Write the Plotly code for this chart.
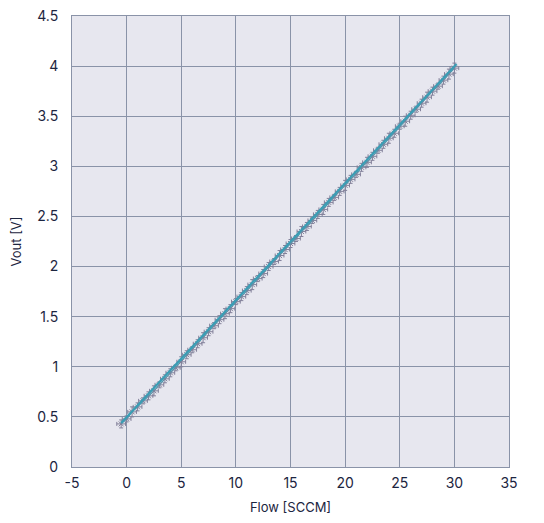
"""Vout vs flow calibration plot"""
import plotly.graph_objects as go

# measured points
flow = [
    -0.5, 0, 0.5, 1, 1.5, 2, 2.5, 3, 3.5, 4, 4.5, 5, 5.5, 6, 6.5, 7, 7.5, 8,
    8.5, 9, 9.5, 10, 10.5, 11, 11.5, 12, 12.5, 13, 13.5, 14, 14.5, 15, 15.5,
    16, 16.5, 17, 17.5, 18, 18.5, 19, 19.5, 20, 20.5, 21, 21.5, 22, 22.5, 23,
    23.5, 24, 24.5, 25, 25.5, 26, 26.5, 27, 27.5, 28, 28.5, 29, 29.5, 30,
]
vout = [
    0.43, 0.48, 0.55, 0.60, 0.66, 0.71, 0.76, 0.82, 0.88, 0.94, 0.99, 1.05,
    1.12, 1.17, 1.23, 1.29, 1.35, 1.41, 1.47, 1.53, 1.58, 1.65, 1.70, 1.76,
    1.82, 1.88, 1.93, 2.00, 2.05, 2.11, 2.17, 2.23, 2.28, 2.35, 2.40, 2.46,
    2.52, 2.57, 2.64, 2.69, 2.75, 2.81, 2.87, 2.92, 2.99, 3.04, 3.10, 3.16,
    3.22, 3.28, 3.33, 3.40, 3.45, 3.51, 3.57, 3.63, 3.69, 3.75, 3.80, 3.86,
    3.92, 3.98,
]
vout_err = [
    0.04, 0.03, 0.05, 0.04, 0.03, 0.04, 0.05, 0.03, 0.04, 0.04, 0.03, 0.05,
    0.04, 0.03, 0.04, 0.05, 0.04, 0.03, 0.04, 0.05, 0.04, 0.03, 0.04, 0.04,
    0.05, 0.03, 0.04, 0.04, 0.03, 0.05, 0.04, 0.04, 0.03, 0.05, 0.04, 0.03,
    0.04, 0.05, 0.04, 0.03, 0.04, 0.05, 0.04, 0.03, 0.04, 0.05, 0.04, 0.03,
    0.04, 0.05, 0.04, 0.03, 0.05, 0.04, 0.03, 0.04, 0.05, 0.04, 0.03, 0.04,
    0.05, 0.05,
]
flow_err = [0.4] * len(flow)

# linear fit
fit_flow = [-0.5, 30.2]
fit_vout = [0.44, 4.02]

x_ticks = [-5, 0, 5, 10, 15, 20, 25, 30, 35]
y_ticks = [0, 0.5, 1, 1.5, 2, 2.5, 3, 3.5, 4, 4.5]

TEAL = "#3a9db4"
GREY = "#83819a"
GRID = "#8a93a8"
INK = "#1c2540"

fig = go.Figure()
fig.add_trace(
    go.Scatter(
        x=flow,
        y=vout,
        mode="lines+markers",
        line={"color": TEAL, "width": 1.2},
        marker={"symbol": "x-thin", "size": 5, "color": GREY,
                "line": {"color": GREY, "width": 1}},
        error_y={"type": "data", "array": vout_err, "color": GREY,
                 "thickness": 1, "width": 2},
        error_x={"type": "data", "array": flow_err, "color": GREY,
                 "thickness": 1, "width": 2},
        showlegend=False,
    )
)
fig.add_trace(
    go.Scatter(
        x=fit_flow,
        y=fit_vout,
        mode="lines",
        line={"color": TEAL, "width": 2.2},
        showlegend=False,
    )
)

axis_common = {
    "showgrid": True,
    "gridcolor": GRID,
    "gridwidth": 1,
    "zeroline": False,
    "showline": True,
    "linecolor": GRID,
    "linewidth": 1,
    "mirror": True,
    "automargin": False,
    "ticks": "outside",
    "tickcolor": "rgba(0,0,0,0)",
    "ticklabeloverflow": "allow",
    "tickfont": {"size": 14, "color": INK},
}
fig.update_xaxes(
    range=[-5, 35], tickvals=x_ticks, ticktext=[str(t) for t in x_ticks],
    ticklen=3,
    title={"text": "Flow [SCCM]", "font": {"size": 13, "color": INK}, "standoff": 22},
    **axis_common,
)
fig.update_yaxes(
    range=[0, 4.5], tickvals=y_ticks, ticktext=[f"{t:g}" for t in y_ticks],
    ticklen=10,
    title={"text": "Vout [V]", "font": {"size": 13, "color": INK}, "standoff": 18},
    **axis_common,
)
fig.update_layout(
    width=528,
    height=507,
    margin={"l": 64, "r": 27, "t": 8, "b": 48},
    plot_bgcolor="#e7e7ef",
    paper_bgcolor="white",
    font={"family": "Inter, Roboto, sans-serif", "color": INK},
)
fig.write_html("out.html")
